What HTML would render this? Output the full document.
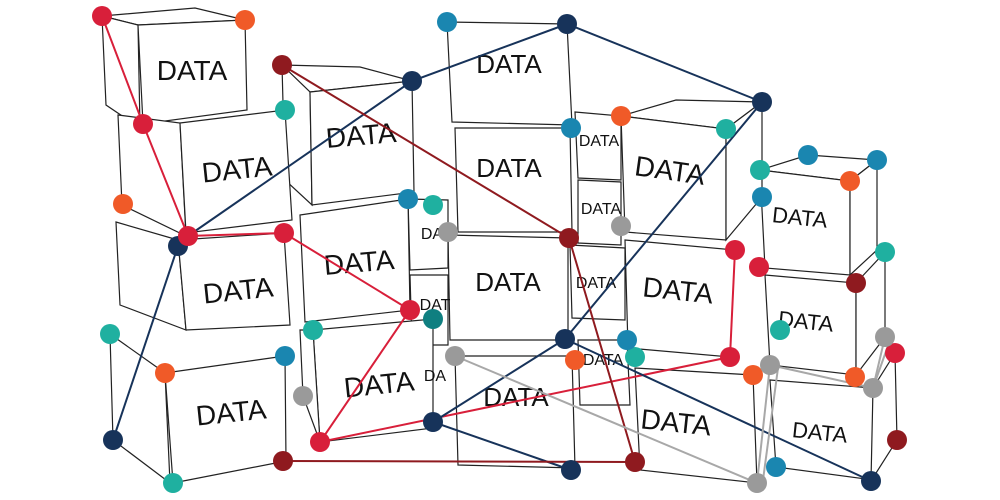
<!DOCTYPE html>
<html><head><meta charset="utf-8"><style>
html,body{margin:0;padding:0;background:#fff;width:1000px;height:500px;overflow:hidden}
svg{display:block}
text{font-family:"Liberation Sans",sans-serif;fill:#111}
.c{fill:#fff;stroke:#222;stroke-width:1.2}
</style></head><body>
<svg width="1000" height="500" viewBox="0 0 1000 500">
<polygon class="c" points="760,170 808,155 877,160 850,181"/>
<polygon class="c" points="760,170 850,181 850,275 765,268"/>
<polygon class="c" points="850,181 877,160 877,250 850,275"/>
<polygon class="c" points="765,275 856,283 856,375 770,365"/>
<polygon class="c" points="856,283 885,252 885,337 856,375"/>
<polygon class="c" points="770,380 873,388 873,480 776,467"/>
<polygon class="c" points="873,388 895,353 897,440 871,481"/>
<polygon class="c" points="621,116 676,100 762,102 726,129"/>
<polygon class="c" points="621,116 726,129 726,240 625,232"/>
<polygon class="c" points="726,129 762,102 762,197 726,240"/>
<polygon class="c" points="625,240 735,250 730,357 628,348"/>
<polygon class="c" points="635,368 753,375 757,483 640,470"/>
<polygon class="c" points="575,112 621,116 621,180 578,178"/>
<polygon class="c" points="578,180 621,182 621,245 578,243"/>
<polygon class="c" points="570,245 625,248 625,320 572,318"/>
<polygon class="c" points="578,340 627,340 630,405 580,405"/>
<polygon class="c" points="447,22 567,24 572,125 452,122"/>
<polygon class="c" points="455,128 570,128 572,232 458,232"/>
<polygon class="c" points="448,235 568,238 568,340 450,340"/>
<polygon class="c" points="455,356 572,356 575,468 458,465"/>
<polygon class="c" points="408,199 448,200 448,268 410,270"/>
<polygon class="c" points="410,275 448,275 448,345 412,345"/>
<polygon class="c" points="282,65 360,67 412,81 310,92"/>
<polygon class="c" points="282,65 310,92 312,205 285,180"/>
<polygon class="c" points="310,92 412,81 414,192 312,205"/>
<polygon class="c" points="300,215 408,199 410,310 305,322"/>
<polygon class="c" points="313,330 433,319 433,428 320,442"/>
<polygon class="c" points="300,330 313,330 320,442 303,396"/>
<polygon class="c" points="102,16 195,8 245,20 138,25"/>
<polygon class="c" points="102,16 138,25 140,128 106,105"/>
<polygon class="c" points="138,25 245,20 247,110 143,124"/>
<polygon class="c" points="118,115 180,123 186,236 122,205"/>
<polygon class="c" points="180,123 285,110 292,220 186,233"/>
<polygon class="c" points="116,222 178,240 186,330 120,305"/>
<polygon class="c" points="178,240 284,233 290,325 186,330"/>
<polygon class="c" points="110,334 165,373 170,483 113,440"/>
<polygon class="c" points="165,373 285,356 286,461 173,483"/>
<text x="192" y="80" font-size="28" text-anchor="middle">DATA</text>
<text x="237" y="179" font-size="28" text-anchor="middle" transform="rotate(-6 237 170)">DATA</text>
<text x="238" y="300" font-size="28" text-anchor="middle" transform="rotate(-6 238 290)">DATA</text>
<text x="231" y="422" font-size="28" text-anchor="middle" transform="rotate(-6 231 412)">DATA</text>
<text x="361" y="145" font-size="28" text-anchor="middle" transform="rotate(-5 361 135)">DATA</text>
<text x="359" y="272" font-size="28" text-anchor="middle" transform="rotate(-5 359 262)">DATA</text>
<text x="379" y="394" font-size="28" text-anchor="middle" transform="rotate(-6 379 384)">DATA</text>
<text x="509" y="73" font-size="26" text-anchor="middle">DATA</text>
<text x="509" y="177" font-size="26" text-anchor="middle">DATA</text>
<text x="508" y="291" font-size="26" text-anchor="middle">DATA</text>
<text x="516" y="406" font-size="26" text-anchor="middle">DATA</text>
<text x="599" y="146" font-size="16" text-anchor="middle">DATA</text>
<text x="601" y="214" font-size="16" text-anchor="middle">DATA</text>
<text x="596" y="288" font-size="16" text-anchor="middle">DATA</text>
<text x="603" y="365" font-size="16" text-anchor="middle">DATA</text>
<text x="432" y="239" font-size="16" text-anchor="middle">DA</text>
<text x="435" y="310" font-size="16" text-anchor="middle">DAT</text>
<text x="435" y="381" font-size="16" text-anchor="middle">DA</text>
<text x="670" y="180" font-size="28" text-anchor="middle" transform="rotate(8 670 170)">DATA</text>
<text x="678" y="300" font-size="28" text-anchor="middle" transform="rotate(6 678 290)">DATA</text>
<text x="676" y="432" font-size="28" text-anchor="middle" transform="rotate(6 676 422)">DATA</text>
<text x="800" y="225" font-size="22" text-anchor="middle" transform="rotate(6 800 216)">DATA</text>
<text x="806" y="329" font-size="22" text-anchor="middle" transform="rotate(6 806 320)">DATA</text>
<text x="820" y="440" font-size="22" text-anchor="middle" transform="rotate(6 820 431)">DATA</text>
<g fill="none" stroke-width="2">
<polyline stroke="#d81f3a" points="102,16 143,124 188,236 284,233 410,310 320,442 730,357 735,250"/>
<polyline stroke="#17335a" points="113,440 178,246"/>
<polyline stroke="#17335a" points="188,236 412,81 567,24 762,102 565,339 433,422 571,470"/>
<line stroke="#17335a" x1="565" y1="339" x2="871" y2="481"/>
<polyline stroke="#8f1a1f" points="282,65 569,238 635,462 283,461"/>
<polyline stroke="#a8a8a8" points="455,356 757,483 770,365 873,388 885,337"/>
<line stroke="#a8a8a8" x1="763" y1="480" x2="778" y2="368"/>
<line stroke="#a8a8a8" x1="873" y1="388" x2="890" y2="340"/>
</g>
<g fill="#d81f3a"><circle cx="102" cy="16" r="10"/><circle cx="143" cy="124" r="10"/><circle cx="284" cy="233" r="10"/><circle cx="410" cy="310" r="10"/><circle cx="320" cy="442" r="10"/><circle cx="735" cy="250" r="10"/><circle cx="730" cy="357" r="10"/><circle cx="759" cy="267" r="10"/><circle cx="895" cy="353" r="10"/></g>
<g fill="#f05a28"><circle cx="245" cy="20" r="10"/><circle cx="123" cy="204" r="10"/><circle cx="165" cy="373" r="10"/><circle cx="621" cy="116" r="10"/><circle cx="850" cy="181" r="10"/><circle cx="575" cy="360" r="10"/><circle cx="753" cy="375" r="10"/><circle cx="855" cy="377" r="10"/></g>
<g fill="#1fb0a0"><circle cx="285" cy="110" r="10"/><circle cx="433" cy="205" r="10"/><circle cx="313" cy="330" r="10"/><circle cx="110" cy="334" r="10"/><circle cx="173" cy="483" r="10"/><circle cx="760" cy="170" r="10"/><circle cx="726" cy="129" r="10"/><circle cx="885" cy="252" r="10"/><circle cx="635" cy="357" r="10"/><circle cx="780" cy="330" r="10"/></g>
<circle fill="#0f7f80" cx="433" cy="319" r="10"/>
<g fill="#1a86b0"><circle cx="447" cy="22" r="10"/><circle cx="408" cy="199" r="10"/><circle cx="571" cy="128" r="10"/><circle cx="285" cy="356" r="10"/><circle cx="762" cy="197" r="10"/><circle cx="808" cy="155" r="10"/><circle cx="877" cy="160" r="10"/><circle cx="627" cy="340" r="10"/><circle cx="776" cy="467" r="10"/></g>
<g fill="#17335a"><circle cx="567" cy="24" r="10"/><circle cx="412" cy="81" r="10"/><circle cx="762" cy="102" r="10"/><circle cx="178" cy="246" r="10"/><circle cx="113" cy="440" r="10"/><circle cx="565" cy="339" r="10"/><circle cx="433" cy="422" r="10"/><circle cx="571" cy="470" r="10"/><circle cx="871" cy="481" r="10"/></g>
<g fill="#8f1a1f"><circle cx="282" cy="65" r="10"/><circle cx="569" cy="238" r="10"/><circle cx="283" cy="461" r="10"/><circle cx="635" cy="462" r="10"/><circle cx="856" cy="283" r="10"/><circle cx="897" cy="440" r="10"/></g>
<g fill="#9a9a9a"><circle cx="448" cy="232" r="10"/><circle cx="621" cy="226" r="10"/><circle cx="303" cy="396" r="10"/><circle cx="455" cy="356" r="10"/><circle cx="770" cy="365" r="10"/><circle cx="885" cy="337" r="10"/><circle cx="873" cy="388" r="10"/><circle cx="757" cy="483" r="10"/></g>
<circle fill="#d81f3a" cx="188" cy="236" r="10"/>
</svg>
</body></html>
